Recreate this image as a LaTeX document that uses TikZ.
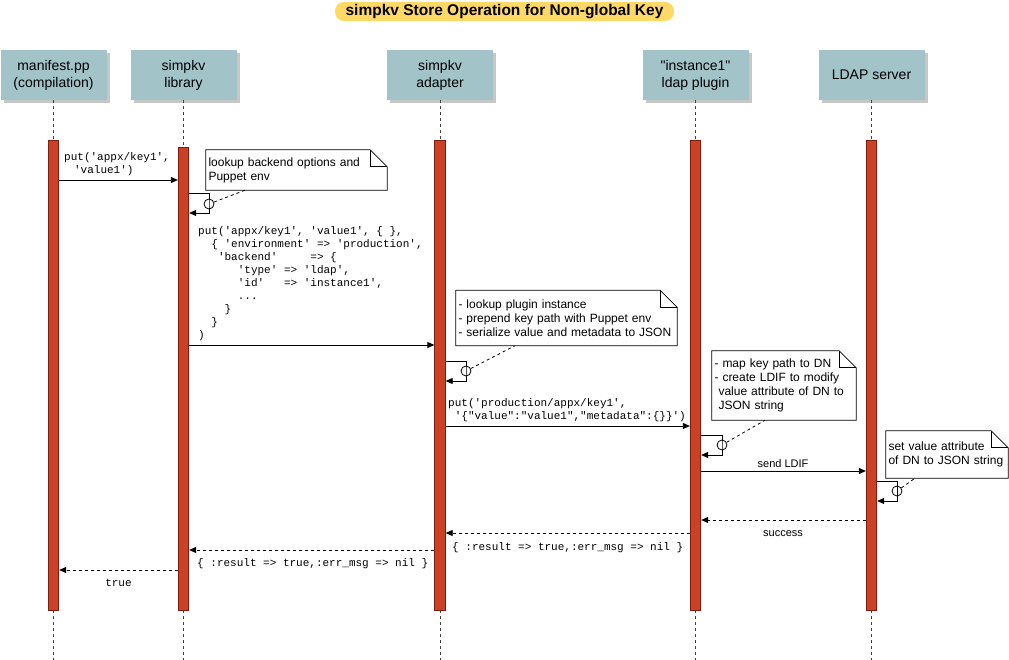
\documentclass[tikz,border=0pt]{standalone}
\usepackage{fontspec}
\setmainfont{Liberation Sans}[Ligatures=TeXOff]
\setmonofont{Liberation Mono}
\usetikzlibrary{arrows.meta,shadows}
\definecolor{actorc}{HTML}{A2C4C9}
\definecolor{barc}{HTML}{CC4125}
\definecolor{bard}{HTML}{7F1D0E}
\definecolor{titlec}{HTML}{FFD966}
\newlength\cw \setlength\cw{6.6pt}
\newcommand\ind[1]{\hspace*{#1\cw}}
\newcommand\noteoutline[1]{%
  \draw[line width=0.8pt] (#1.south west) -- (#1.north west) -- ([xshift=-17pt]#1.north east) -- ([yshift=-17pt]#1.north east) -- (#1.south east) -- cycle;
  \draw[line width=0.8pt] ([xshift=-17pt]#1.north east) -- ([xshift=-17pt,yshift=-17pt]#1.north east) -- ([yshift=-17pt]#1.north east);}
\begin{document}
\begin{tikzpicture}[x=1pt,y=-1pt,
  actor/.style={fill=actorc, minimum width=106pt, minimum height=50pt, inner sep=0pt, align=center,
    font=\fontsize{14}{17}\selectfont,
    drop shadow={shadow xshift=3pt, shadow yshift=-3pt, fill=black!22, opacity=1}},
  bar/.style={fill=barc, draw=bard, line width=0.8pt, minimum width=10.5pt, inner sep=0pt},
  life/.style={dash pattern=on 3pt off 3pt, line width=0.8pt, draw=black!75},
  msg/.style={-{Triangle[length=7pt,width=6pt]}, line width=0.8pt},
  ret/.style={msg, dash pattern=on 3pt off 3pt},
  mono/.style={font=\ttfamily\fontsize{11}{13}\selectfont, align=left, inner sep=0pt},
  lbl/.style={font=\fontsize{11}{13}\selectfont, inner sep=0pt},
  notebox/.style={align=left, inner xsep=2.5pt, inner ysep=0pt, font=\fontsize{12}{14}\selectfont},
  notedash/.style={dash pattern=on 3pt off 3pt, line width=0.8pt},
  ring/.style={circle, draw, line width=0.8pt, minimum size=10pt, inner sep=0pt},
  titlebox/.style={fill=titlec, rounded corners=9pt, minimum width=339pt, minimum height=19pt, inner sep=0pt,
    font=\bfseries\fontsize{15.5}{18}\selectfont}]
\useasboundingbox (0,0) rectangle (1009,660);

% title
\node[titlebox] (title) at (504.5,11.5) {simpkv Store Operation for Non-global Key};

% actors
\node[actor] (aM) at (53.5,75) {manifest.pp\\(compilation)};
\node[actor] (aL) at (183.5,75) {simpkv\\library};
\node[actor] (aA) at (440,75) {simpkv\\adapter};
\node[actor] (aP) at (695.5,75) {"instance1"\\ldap plugin};
\node[actor] (aD) at (871.5,75) {LDAP server};

% lifelines
\coordinate (eM) at (53.5,660);
\coordinate (eL) at (183.5,660);
\coordinate (eA) at (440,660);
\coordinate (eP) at (695.5,660);
\coordinate (eD) at (871.5,660);
\foreach \a/\e in {aM/eM,aL/eL,aA/eA,aP/eP,aD/eD} \draw[life] (\a.south) -- (\e);

% activation bars
\node[bar, minimum height=470pt] (bM) at (53.5,375) {};
\node[bar, minimum height=463pt] (bL) at (183.5,378.5) {};
\node[bar, minimum height=470pt] (bA) at (440,375) {};
\node[bar, minimum height=470pt] (bP) at (695.5,375) {};
\node[bar, minimum height=470pt] (bD) at (871.5,375) {};

% message 1
\draw[msg] (bM.east |- 0,180) -- (bL.west |- 0,180);
\node[mono, anchor=north west] (t1) at (64,152) {put('appx/key1',\\\ind{1.5}'value1')};

% note 1 + self call
\node[notebox, text width=176pt, minimum height=40pt] (n1) at (296.5,170) {lookup backend options and\\Puppet env};
\noteoutline{n1}
\node[ring] (rL) at (209,204) {};
\draw[msg] (bL.east |- 0,193) -| (rL.center) |- (bL.east |- 0,213);
\draw[notedash] (rL) -- (n1.south -| 245,0);

% message 2
\node[mono, anchor=north west] (t2) at (198,226) {put('appx/key1', 'value1', \{ \},\\
\ind{2}\{ 'environment' => 'production',\\
\ind{3}'backend'\ \ \ \ \ => \{\\
\ind{6}'type' => 'ldap',\\
\ind{6}'id'\ \ \ => 'instance1',\\
\ind{6}...\\
\ind{4}\}\\
\ind{2}\}\\
)};
\draw[msg] (bL.east |- 0,345) -- (bA.west |- 0,345);

% note 2 + self call
\node[notebox, text width=216pt, minimum height=55pt] (n2) at (566.5,318) {- lookup plugin instance\\- prepend key path with Puppet env\\- serialize value and metadata to JSON};
\noteoutline{n2}
\node[ring] (rA) at (466,371) {};
\draw[msg] (bA.east |- 0,361) -| (rA.center) |- (bA.east |- 0,381);
\draw[notedash] (rA) -- (n2.south -| 515,0);

% message 3
\node[mono, anchor=north west] (t3) at (448,398.5) {put('production/appx/key1',\\\ind{1}'\{"value":"value1","metadata":\{\}\}')};
\draw[msg] (bA.east |- 0,426) -- (bP.west |- 0,426);

% note 3 + self call
\node[notebox, text width=139pt, minimum height=69pt] (n3) at (784,385.5) {- map key path to DN\\- create LDIF to modify\\\hspace*{4pt}value attribute of DN to\\\hspace*{4pt}JSON string};
\noteoutline{n3}
\node[ring] (rP) at (722,445) {};
\draw[msg] (bP.east |- 0,435) -| (rP.center) |- (bP.east |- 0,455);
\draw[notedash] (rP) -- (n3.south -| 765,0);

% message 4
\draw[msg] (bP.east |- 0,471) -- (bD.west |- 0,471);
\node[lbl, anchor=base] (t4) at (783,467) {send LDIF};

% note 4 + self call
\node[notebox, text width=117pt, minimum height=47pt] (n4) at (947,454.5) {set value attribute\\of DN to JSON string};
\noteoutline{n4}
\node[ring] (rD) at (897,491) {};
\draw[msg] (bD.east |- 0,481) -| (rD.center) |- (bD.east |- 0,501);
\draw[notedash] (rD) -- (n4.south -| 915,0);

% returns
\draw[ret] (bD.west |- 0,520) -- (bP.east |- 0,520);
\node[lbl, anchor=base] (t5) at (783,536.5) {success};

\draw[ret] (bP.west |- 0,533) -- (bA.east |- 0,533);
\node[mono, anchor=base west] (t6) at (452,550) {\{ :result => true,:err\_msg => nil \}};

\draw[ret] (bA.west |- 0,550) -- (bL.east |- 0,550);
\node[mono, anchor=base west] (t7) at (197,566) {\{ :result => true,:err\_msg => nil \}};

\draw[ret] (bL.west |- 0,570) -- (bM.east |- 0,570);
\node[mono, anchor=base] (t8) at (118.5,586) {true};
\end{tikzpicture}
\end{document}
